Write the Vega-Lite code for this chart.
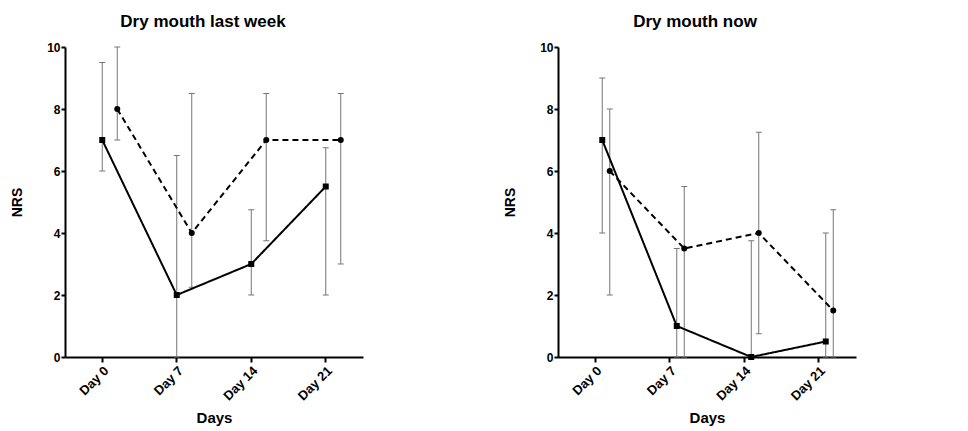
{
  "$schema": "https://vega.github.io/schema/vega-lite/v6.json",
  "background": "white",
  "padding": {"left": 10, "top": 13, "right": 5, "bottom": 5},
  "bounds": "flush",
  "spacing": 195,
  "resolve": {
    "scale": {"shape": "independent", "strokeDash": "independent", "xOffset": "independent", "x": "independent", "y": "independent"},
    "legend": {"shape": "independent", "strokeDash": "independent"}
  },
  "config": {
    "font": "Liberation Sans",
    "view": {"stroke": null},
    "axis": {"grid": false, "domainColor": "black", "domainWidth": 2, "tickColor": "black", "tickWidth": 2, "labelFont": "Liberation Sans", "labelFontWeight": "bold", "labelFontSize": 12, "labelColor": "black", "titleFont": "Liberation Sans", "titleFontWeight": "bold", "titleColor": "black"},
    "axisX": {"tickSize": 5, "labelAngle": -45, "labelFontSize": 13, "titleFontSize": 15, "titlePadding": 8},
    "axisY": {"tickSize": 4, "titleFontSize": 14, "titlePadding": 22, "labelPadding": 1},
    "title": {"font": "Liberation Sans", "fontSize": 17, "fontWeight": "bold", "color": "black", "frame": "group", "anchor": "middle", "offset": 10},
    "legend": {"labelFont": "Liberation Sans", "labelFontSize": 14, "labelColor": "black", "symbolSize": 170, "symbolFillColor": "black", "symbolStrokeColor": "black", "symbolStrokeWidth": 0, "symbolOpacity": 1, "labelOffset": 8, "rowPadding": 8.5}
  },
  "hconcat": [
    {
      "width": 298,
      "height": 310,
      "title": {"text": "Dry mouth last week", "dx": -11},
      "data": {"values": [
        {"day": "Day 0", "series": "High Dose", "mean": 7, "lo": 6, "hi": 9.5},
        {"day": "Day 7", "series": "High Dose", "mean": 2, "lo": 0, "hi": 6.5},
        {"day": "Day 14", "series": "High Dose", "mean": 3, "lo": 2, "hi": 4.75},
        {"day": "Day 21", "series": "High Dose", "mean": 5.5, "lo": 2, "hi": 6.75},
        {"day": "Day 0", "series": "Low Dose", "mean": 8, "lo": 7, "hi": 10},
        {"day": "Day 7", "series": "Low Dose", "mean": 4, "lo": 2.25, "hi": 8.5},
        {"day": "Day 14", "series": "Low Dose", "mean": 7, "lo": 3.75, "hi": 8.5},
        {"day": "Day 21", "series": "Low Dose", "mean": 7, "lo": 3, "hi": 8.5}
      ]},
      "encoding": {
        "x": {"field": "day", "type": "ordinal", "scale": {"type": "band", "domain": ["Day 0", "Day 7", "Day 14", "Day 21"], "paddingInner": 0, "paddingOuter": 0}, "title": "Days"},
        "y": {"field": "mean", "type": "quantitative", "scale": {"domain": [0, 10], "nice": false}, "axis": {"values": [0, 2, 4, 6, 8, 10]}, "title": "NRS"}
      },
      "layer": [
        {
          "mark": {"type": "rule", "color": "#757575", "strokeWidth": 1},
          "encoding": {
            "xOffset": {"field": "series", "type": "nominal", "scale": {"type": "point", "domain": ["High Dose", "Low Dose"], "range": [37.25, 52.25], "padding": 0}},
            "y": {"field": "lo", "type": "quantitative", "title": "NRS"},
            "y2": {"field": "hi"}
          }
        },
        {
          "mark": {"type": "tick", "orient": "horizontal", "color": "#757575", "thickness": 1, "size": 6, "opacity": 1},
          "encoding": {"xOffset": {"field": "series", "type": "nominal"}, "y": {"field": "lo", "type": "quantitative", "title": "NRS"}}
        },
        {
          "mark": {"type": "tick", "orient": "horizontal", "color": "#757575", "thickness": 1, "size": 6, "opacity": 1},
          "encoding": {"xOffset": {"field": "series", "type": "nominal"}, "y": {"field": "hi", "type": "quantitative", "title": "NRS"}}
        },
        {
          "mark": {"type": "line", "color": "black", "strokeWidth": 2},
          "encoding": {
            "xOffset": {"field": "series", "type": "nominal"},
            "strokeDash": {"field": "series", "type": "nominal", "scale": {"domain": ["Low Dose", "High Dose"], "range": [[6, 4], [1, 0]]}, "legend": null}
          }
        },
        {
          "mark": {"type": "point", "filled": true, "color": "black", "opacity": 1, "size": 36},
          "encoding": {
            "xOffset": {"field": "series", "type": "nominal"},
            "shape": {
              "field": "series", "type": "nominal",
              "scale": {"domain": ["Low Dose", "High Dose"], "range": ["circle", "square"]},
              "legend": {
                "title": null, "orient": "none", "legendX": 315, "legendY": 117,
                "encode": {"symbols": {"update": {"shape": {"signal": "datum.value === 'Low Dose' ? 'M-1,-0.12H-0.4V0.12H-1Z M0.4,-0.12H1V0.12H0.4Z M0.5,0A0.5,0.5,0,1,1,-0.5,0A0.5,0.5,0,1,1,0.5,0Z' : 'M-1,-0.12H-0.4V0.12H-1Z M0.4,-0.12H1V0.12H0.4Z M-0.46,-0.46H0.46V0.46H-0.46Z'"}}}}
              }
            }
          }
        },
        {
          "data": {"values": [{"note": "no treatment"}]},
          "mark": {"type": "rect", "fill": "white", "stroke": "black", "strokeWidth": 1.6, "xOffset": 1.7, "x2Offset": -3},
          "encoding": {"x": {"datum": "Day 14", "type": "ordinal"}, "x2": {"datum": "Day 21"}, "y": {"datum": 1.2, "type": "quantitative"}, "y2": {"datum": 1.8}}
        },
        {
          "data": {"values": [{"note": "no treatment"}]},
          "mark": {"type": "text", "fontSize": 11, "dx": 36, "baseline": "middle", "align": "center", "color": "black"},
          "encoding": {"x": {"datum": "Day 14", "type": "ordinal"}, "y": {"datum": 1.5, "type": "quantitative"}, "text": {"field": "note"}}
        },
        {
          "data": {"values": [{"panel": "A"}]},
          "mark": {"type": "text", "fontSize": 29, "fontWeight": "bold", "dx": -85, "baseline": "alphabetic", "align": "center", "color": "black"},
          "encoding": {"x": {"datum": "Day 0", "type": "ordinal"}, "y": {"datum": 10.35, "type": "quantitative"}, "text": {"field": "panel"}}
        }
      ]
    },
    {
      "width": 298,
      "height": 310,
      "title": {"text": "Dry mouth now", "dx": -12},
      "data": {"values": [
        {"day": "Day 0", "series": "High Dose", "mean": 7, "lo": 4, "hi": 9},
        {"day": "Day 7", "series": "High Dose", "mean": 1, "lo": 0, "hi": 3.5},
        {"day": "Day 14", "series": "High Dose", "mean": 0, "lo": 0, "hi": 3.75},
        {"day": "Day 21", "series": "High Dose", "mean": 0.5, "lo": 0, "hi": 4},
        {"day": "Day 0", "series": "Low dose", "mean": 6, "lo": 2, "hi": 8},
        {"day": "Day 7", "series": "Low dose", "mean": 3.5, "lo": 0, "hi": 5.5},
        {"day": "Day 14", "series": "Low dose", "mean": 4, "lo": 0.75, "hi": 7.25},
        {"day": "Day 21", "series": "Low dose", "mean": 1.5, "lo": 0, "hi": 4.75}
      ]},
      "encoding": {
        "x": {"field": "day", "type": "ordinal", "scale": {"type": "band", "domain": ["Day 0", "Day 7", "Day 14", "Day 21"], "paddingInner": 0, "paddingOuter": 0}, "title": "Days"},
        "y": {"field": "mean", "type": "quantitative", "scale": {"domain": [0, 10], "nice": false}, "axis": {"values": [0, 2, 4, 6, 8, 10]}, "title": "NRS"}
      },
      "layer": [
        {
          "mark": {"type": "rule", "color": "#757575", "strokeWidth": 1},
          "encoding": {
            "xOffset": {"field": "series", "type": "nominal", "scale": {"type": "point", "domain": ["High Dose", "Low dose"], "range": [44.25, 51.75], "padding": 0}},
            "y": {"field": "lo", "type": "quantitative", "title": "NRS"},
            "y2": {"field": "hi"}
          }
        },
        {
          "mark": {"type": "tick", "orient": "horizontal", "color": "#757575", "thickness": 1, "size": 6, "opacity": 1},
          "encoding": {"xOffset": {"field": "series", "type": "nominal"}, "y": {"field": "lo", "type": "quantitative", "title": "NRS"}}
        },
        {
          "mark": {"type": "tick", "orient": "horizontal", "color": "#757575", "thickness": 1, "size": 6, "opacity": 1},
          "encoding": {"xOffset": {"field": "series", "type": "nominal"}, "y": {"field": "hi", "type": "quantitative", "title": "NRS"}}
        },
        {
          "data": {"values": [{"note": "no treatment"}]},
          "mark": {"type": "rect", "fill": "white", "stroke": "black", "strokeWidth": 1.6, "xOffset": 6, "x2Offset": 1.5},
          "encoding": {"x": {"datum": "Day 14", "type": "ordinal"}, "x2": {"datum": "Day 21"}, "y": {"datum": 1.2, "type": "quantitative"}, "y2": {"datum": 1.8}}
        },
        {
          "data": {"values": [{"note": "no treatment"}]},
          "mark": {"type": "text", "fontSize": 11, "dx": 40.5, "baseline": "middle", "align": "center", "color": "black"},
          "encoding": {"x": {"datum": "Day 14", "type": "ordinal"}, "y": {"datum": 1.5, "type": "quantitative"}, "text": {"field": "note"}}
        },
        {
          "mark": {"type": "line", "color": "black", "strokeWidth": 2},
          "encoding": {
            "xOffset": {"field": "series", "type": "nominal"},
            "strokeDash": {"field": "series", "type": "nominal", "scale": {"domain": ["Low dose", "High Dose"], "range": [[6, 4], [1, 0]]}, "legend": null}
          }
        },
        {
          "mark": {"type": "point", "filled": true, "color": "black", "opacity": 1, "size": 36},
          "encoding": {
            "xOffset": {"field": "series", "type": "nominal"},
            "shape": {
              "field": "series", "type": "nominal",
              "scale": {"domain": ["Low dose", "High Dose"], "range": ["circle", "square"]},
              "legend": {
                "title": null, "orient": "none", "legendX": 310, "legendY": 26,
                "encode": {"symbols": {"update": {"shape": {"signal": "datum.value === 'Low dose' ? 'M-1,-0.12H-0.4V0.12H-1Z M0.4,-0.12H1V0.12H0.4Z M0.5,0A0.5,0.5,0,1,1,-0.5,0A0.5,0.5,0,1,1,0.5,0Z' : 'M-1,-0.12H-0.4V0.12H-1Z M0.4,-0.12H1V0.12H0.4Z M-0.46,-0.46H0.46V0.46H-0.46Z'"}}}}
              }
            }
          }
        },
        {
          "data": {"values": [{"panel": "B"}]},
          "mark": {"type": "text", "fontSize": 29, "fontWeight": "bold", "dx": -86, "baseline": "alphabetic", "align": "center", "color": "black"},
          "encoding": {"x": {"datum": "Day 0", "type": "ordinal"}, "y": {"datum": 10.35, "type": "quantitative"}, "text": {"field": "panel"}}
        }
      ]
    }
  ]
}
